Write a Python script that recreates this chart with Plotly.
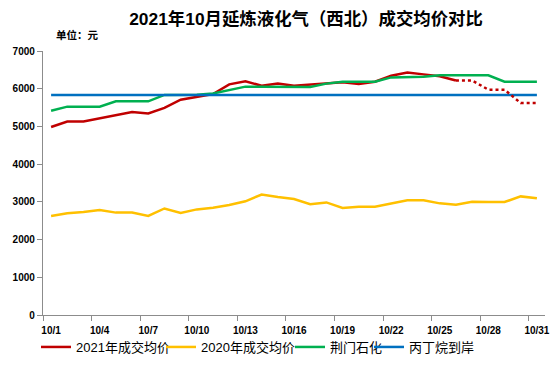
import plotly.graph_objects as go

dates = [f"10/{d}" for d in range(1, 32)]
tick_labels = ["10/1", "10/4", "10/7", "10/10", "10/13", "10/16", "10/19", "10/22", "10/25", "10/28", "10/31"]

price_2021 = [4985, 5130, 5130, 5215, 5285, 5380, 5345, 5490, 5710, 5780, 5860, 6115, 6195, 6080, 6135,
              6080, 6115, 6150, 6170, 6125, 6185, 6345, 6430, 6380, 6330, 6220,
              6220, 5975, 5975, 5620, 5620]
forecast_start = 25  # dotted from this index on

price_2020 = [2625, 2695, 2730, 2785, 2715, 2715, 2625, 2825, 2705, 2800, 2845, 2915, 3015, 3195, 3130,
              3075, 2935, 2985, 2840, 2870, 2870, 2960, 3040, 3040, 2960, 2925, 3005, 2995, 2995, 3145, 3095]

jingmen = [5415, 5525, 5525, 5525, 5665, 5665, 5665, 5835, 5835, 5840, 5875, 5975, 6055, 6055, 6055,
           6045, 6045, 6135, 6185, 6185, 6185, 6300, 6300, 6320, 6355, 6355, 6355, 6355, 6185, 6185, 6185]

propane = [5835] * 31

RED, YELLOW, GREEN, BLUE = "#C00000", "#FFC000", "#00B050", "#0070C0"
x = list(range(len(dates)))
FONT = "Liberation Sans, Arial, Noto Sans CJK SC, sans-serif"
LEG_FONT = dict(size=13, family="Liberation Sans, Noto Sans CJK SC", color="black")

fig = go.Figure()
fig.add_trace(go.Scatter(x=x[:forecast_start + 1], y=price_2021[:forecast_start + 1], mode="lines",
                         name="2021年成交均价", line=dict(color=RED, width=2.5), legend="legend"))
fig.add_trace(go.Scatter(x=x, y=price_2020, mode="lines", name="2020年成交均价",
                         line=dict(color=YELLOW, width=2.5), legend="legend2"))
fig.add_trace(go.Scatter(x=x, y=jingmen, mode="lines", name="荆门石化",
                         line=dict(color=GREEN, width=2.5), legend="legend3"))
fig.add_trace(go.Scatter(x=x, y=propane, mode="lines", name="丙丁烷到岸",
                         line=dict(color=BLUE, width=2.5), legend="legend4"))
fig.add_trace(go.Scatter(x=x[forecast_start:], y=price_2021[forecast_start:], mode="lines",
                         showlegend=False, line=dict(color=RED, width=2.5, dash="dot")))

def leg(xpx):
    return dict(orientation="h", x=xpx / 554, xanchor="left", xref="container",
                y=1 - 347 / 368, yanchor="middle", yref="container",
                font=LEG_FONT, itemwidth=30, bgcolor="rgba(0,0,0,0)", borderwidth=0)

fig.update_layout(
    width=554, height=368,
    margin=dict(l=43, r=9, t=51, b=53, autoexpand=False),
    paper_bgcolor="white", plot_bgcolor="white",
    font=dict(family=FONT, color="black"),
    title=dict(text="<b>2021年10月延炼液化气（西北）成交均价对比</b>",
               x=306 / 554, xref="container", xanchor="center", y=1 - 19 / 368, yanchor="middle",
               font=dict(size=17.4, family="Liberation Sans, Noto Sans CJK SC", color="black")),
    showlegend=True,
    legend=leg(36), legend2=leg(161), legend3=leg(290), legend4=leg(369),
    annotations=[dict(text="<b>单位：元</b>", xref="paper", yref="paper", x=0.022, y=1.06,
                      xanchor="left", yanchor="middle", showarrow=False,
                      font=dict(size=10.5, family="Liberation Sans, Noto Sans CJK SC"))],
)

fig.update_xaxes(
    range=[-0.5, 30.5], tickmode="array", tickvals=[dates.index(t) for t in tick_labels],
    ticktext=["<b>%s</b>" % t for t in tick_labels], ticks="", ticklabelstandoff=6,
    showline=True, linecolor="#8c8c8c", linewidth=1.3, showgrid=False, zeroline=False,
    tickfont=dict(size=10, family=FONT), automargin=False,
    minor=dict(tick0=-0.5, dtick=3, ticks="outside", ticklen=5, tickcolor="#8c8c8c", tickwidth=1.3, showgrid=False),
)
fig.update_yaxes(
    range=[0, 7000], dtick=1000, tickformat="d", ticks="outside", ticklen=5, automargin=False,
    tickcolor="#8c8c8c", tickwidth=1.3, showline=True, linecolor="#8c8c8c", linewidth=1.3,
    showgrid=False, zeroline=False, tickfont=dict(size=10, family=FONT, weight="bold"),
)

fig.write_html("out.html", config={"displayModeBar": False},
               post_script="document.body.style.margin='0';")
